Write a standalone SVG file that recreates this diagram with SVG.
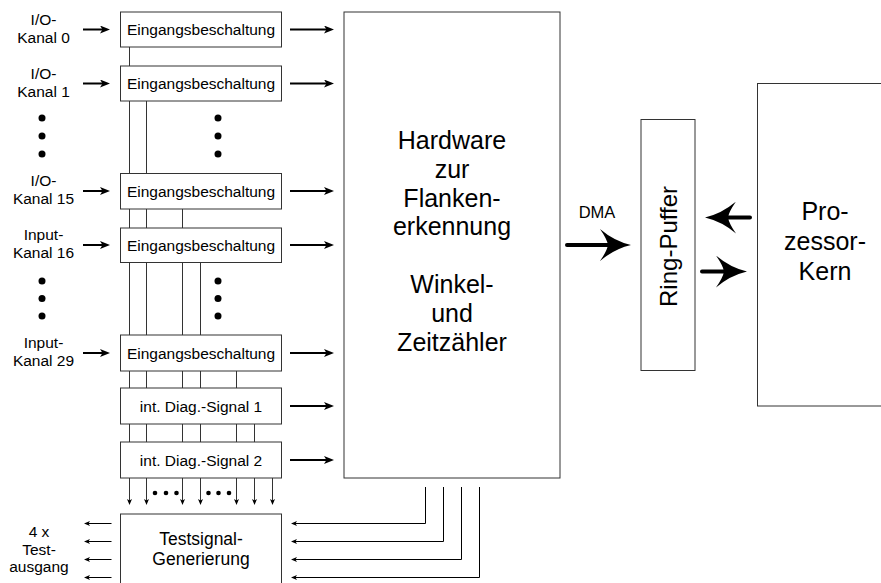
<svg xmlns="http://www.w3.org/2000/svg" width="881" height="583" viewBox="0 0 881 583">
<style>
.box{fill:#fff;stroke:#333;stroke-width:1}
.t{font-family:"Liberation Sans",Arial,Helvetica,sans-serif;fill:#000;text-anchor:middle}
.s15{font-size:15.5px}
.s17{font-size:17.5px}
.big{font-size:25px}
.w1{stroke:#333;stroke-width:1;fill:none}
.w1k{stroke:#000;stroke-width:1;fill:none}
.w2{stroke:#000;stroke-width:2;fill:none}
.w4{stroke:#000;stroke-width:4;fill:none;stroke-linecap:round}
.dot{fill:#000}
</style>
<defs>
<marker id="ah" markerUnits="userSpaceOnUse" viewBox="0 0 10 8" refX="4" refY="4" markerWidth="10" markerHeight="8" orient="auto"><path d="M0,0 L10,4 L0,8 L2.5,4 Z" fill="#000"/></marker>
<marker id="as" markerUnits="userSpaceOnUse" viewBox="0 0 6 6" refX="2" refY="3" markerWidth="6" markerHeight="6" orient="auto"><path d="M0,0.5 L6,3 L0,5.5 L1.5,3 Z" fill="#000"/></marker>
<marker id="ab" markerUnits="userSpaceOnUse" viewBox="0 0 32 32" refX="11" refY="16" markerWidth="32" markerHeight="32" orient="auto"><path d="M32,16 Q15,12 1,0 Q8,10 9,16 Q8,22 1,32 Q15,20 32,16 Z" fill="#000"/></marker>
</defs>

<g id="connectors">
  <path class="w2" marker-end="url(#ah)" d="M83,29.5 H104"/>
  <path class="w2" marker-end="url(#ah)" d="M83,83.5 H104"/>
  <path class="w2" marker-end="url(#ah)" d="M83,191 H104"/>
  <path class="w2" marker-end="url(#ah)" d="M83,245 H104"/>
  <path class="w2" marker-end="url(#ah)" d="M83,353 H104"/>
  <path class="w2" marker-end="url(#ah)" d="M290,29.5 H328"/>
  <path class="w2" marker-end="url(#ah)" d="M290,83.5 H328"/>
  <path class="w2" marker-end="url(#ah)" d="M290,191 H328"/>
  <path class="w2" marker-end="url(#ah)" d="M290,245 H328"/>
  <path class="w2" marker-end="url(#ah)" d="M290,353 H328"/>
  <path class="w2" marker-end="url(#ah)" d="M290,406 H328"/>
  <path class="w2" marker-end="url(#ah)" d="M290,460 H328"/>
  <path class="w1" d="M129.5,47 V66
    M129.5,101 V173.5 M146.5,101 V173.5
    M129.5,209 V228 M146.5,209 V228 M182.5,209 V228
    M129.5,262.5 V335 M146.5,262.5 V335 M182.5,262.5 V335 M200.5,262.5 V335
    M129.5,371 V388 M146.5,371 V388 M182.5,371 V388 M200.5,371 V388 M236.5,371 V388
    M129.5,424 V442 M146.5,424 V442 M182.5,424 V442 M200.5,424 V442 M236.5,424 V442 M254.5,424 V442"/>
  <path class="w1" marker-end="url(#as)" d="M129.5,478 V501"/>
  <path class="w1" marker-end="url(#as)" d="M146.5,478 V501"/>
  <path class="w1" marker-end="url(#as)" d="M182.5,478 V501"/>
  <path class="w1" marker-end="url(#as)" d="M200.5,478 V501"/>
  <path class="w1" marker-end="url(#as)" d="M236.5,478 V501"/>
  <path class="w1" marker-end="url(#as)" d="M254.5,478 V501"/>
  <path class="w1" marker-end="url(#as)" d="M272.5,478 V501"/>
  <path class="w1k" marker-end="url(#as)" d="M425.5,487 V523.5 H295"/>
  <path class="w1k" marker-end="url(#as)" d="M443.5,487 V541.5 H295"/>
  <path class="w1k" marker-end="url(#as)" d="M461.5,487 V559.5 H295"/>
  <path class="w1k" marker-end="url(#as)" d="M479.5,487 V577.5 H295"/>
  <path class="w1k" marker-end="url(#as)" d="M111.5,523.5 H88"/>
  <path class="w1k" marker-end="url(#as)" d="M111.5,541.5 H88"/>
  <path class="w1k" marker-end="url(#as)" d="M111.5,559.5 H88"/>
  <path class="w1k" marker-end="url(#as)" d="M111.5,577.5 H88"/>
  <path class="w4" marker-end="url(#ab)" d="M567,245 H610"/>
  <path class="w4" marker-end="url(#ab)" d="M750,217.5 H726"/>
  <path class="w4" marker-end="url(#ab)" d="M702,271.5 H726"/>
  <text class="t" x="597" y="218" style="font-size:16.5px">DMA</text>
</g>

<g id="dots">
  <circle class="dot" cx="42" cy="118" r="3.5"/>
  <circle class="dot" cx="42" cy="136" r="3.5"/>
  <circle class="dot" cx="42" cy="154" r="3.5"/>
  <circle class="dot" cx="218" cy="118" r="3.5"/>
  <circle class="dot" cx="218" cy="136" r="3.5"/>
  <circle class="dot" cx="218" cy="154" r="3.5"/>
  <circle class="dot" cx="42" cy="281" r="3.5"/>
  <circle class="dot" cx="42" cy="298.5" r="3.5"/>
  <circle class="dot" cx="42" cy="316" r="3.5"/>
  <circle class="dot" cx="218" cy="281" r="3.5"/>
  <circle class="dot" cx="218" cy="298.5" r="3.5"/>
  <circle class="dot" cx="218" cy="316" r="3.5"/>
  <circle class="dot" cx="155" cy="493" r="2.3"/>
  <circle class="dot" cx="166" cy="493" r="2.3"/>
  <circle class="dot" cx="176.5" cy="493" r="2.3"/>
  <circle class="dot" cx="208.5" cy="493" r="2.3"/>
  <circle class="dot" cx="218.5" cy="493" r="2.3"/>
  <circle class="dot" cx="229" cy="493" r="2.3"/>
</g>

<g id="labels">
  <text class="t s15" x="43.5" y="24.5">I/O-</text>
  <text class="t s15" x="43.5" y="42.5">Kanal 0</text>
  <text class="t s15" x="43.5" y="78.5">I/O-</text>
  <text class="t s15" x="43.5" y="96.5">Kanal 1</text>
  <text class="t s15" x="43.5" y="186">I/O-</text>
  <text class="t s15" x="43.5" y="204">Kanal 15</text>
  <text class="t s15" x="43.5" y="240">Input-</text>
  <text class="t s15" x="43.5" y="258">Kanal 16</text>
  <text class="t s15" x="43.5" y="348">Input-</text>
  <text class="t s15" x="43.5" y="366">Kanal 29</text>
  <text class="t s15" x="39" y="537">4 x</text>
  <text class="t s15" x="39" y="554.5">Test-</text>
  <text class="t s15" x="39" y="572">ausgang</text>
</g>

<g id="eb0"><rect class="box" x="120.5" y="12" width="161" height="35"/><text class="t s15" x="201" y="35">Eingangsbeschaltung</text></g>
<g id="eb1"><rect class="box" x="120.5" y="66" width="161" height="35"/><text class="t s15" x="201" y="89">Eingangsbeschaltung</text></g>
<g id="eb15"><rect class="box" x="120.5" y="173.5" width="161" height="35.5"/><text class="t s15" x="201" y="196.5">Eingangsbeschaltung</text></g>
<g id="eb16"><rect class="box" x="120.5" y="228" width="161" height="34.5"/><text class="t s15" x="201" y="250.5">Eingangsbeschaltung</text></g>
<g id="eb29"><rect class="box" x="120.5" y="335" width="161" height="36"/><text class="t s15" x="201" y="358.5">Eingangsbeschaltung</text></g>
<g id="diag1"><rect class="box" x="120.5" y="388" width="161" height="36"/><text class="t s15" x="201" y="411.5">int. Diag.-Signal 1</text></g>
<g id="diag2"><rect class="box" x="120.5" y="442" width="161" height="36"/><text class="t s15" x="201" y="465.5">int. Diag.-Signal 2</text></g>
<g id="testgen"><rect class="box" x="120.5" y="514" width="161" height="80"/><text class="t s17" x="201" y="545">Testsignal-</text><text class="t s17" x="201" y="565">Generierung</text></g>

<g id="hardware"><rect class="box" x="344" y="12" width="216" height="466"/>
  <text class="t big" x="452" y="149">Hardware</text>
  <text class="t big" x="452" y="178">zur</text>
  <text class="t big" x="452" y="206.5">Flanken-</text>
  <text class="t big" x="452" y="235">erkennung</text>
  <text class="t big" x="452" y="293">Winkel-</text>
  <text class="t big" x="452" y="322">und</text>
  <text class="t big" x="452" y="351">Zeitzähler</text>
</g>

<g id="ringpuffer"><rect class="box" x="641" y="119.5" width="54" height="251"/>
  <text class="t" transform="translate(677,246.5) rotate(-90)" x="0" y="0" style="font-size:24px">Ring-Puffer</text>
</g>

<g id="prozessor"><rect class="box" x="757.5" y="83.5" width="130" height="322.5"/>
  <text class="t big" x="825" y="220">Pro-</text>
  <text class="t big" x="825" y="250">zessor-</text>
  <text class="t big" x="825" y="280">Kern</text>
</g>
</svg>
